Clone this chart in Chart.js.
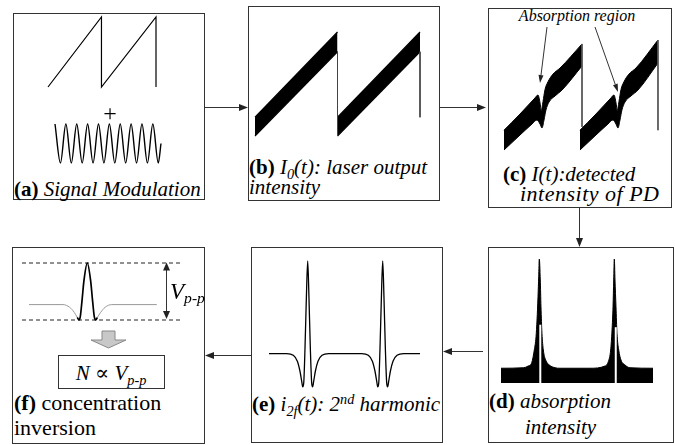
<!DOCTYPE html>
<html>
<head>
<meta charset="utf-8">
<script src="https://cdn.jsdelivr.net/npm/chart.js@4"></script>
<style>
html, body { margin: 0; padding: 0; background: #fff; }
#page { position: relative; width: 675px; height: 445px; overflow: hidden;
        font-family: "Liberation Serif", "DejaVu Serif", serif; color: #000; }
.box { position: absolute; border: 1px solid #333; box-sizing: border-box; }
.txt { position: absolute; white-space: nowrap; }
.txt sub, .txt sup { font-size: 0.68em; line-height: 0; position: relative; vertical-align: baseline; }
.txt sub { top: 0.3em; }
.txt sup { top: -0.5em; }
canvas { position: absolute; }
#ov { position: absolute; left: 0; top: 0; }
</style>
</head>
<body>
<div id="page">
  <div class="box" style="left:13px;top:13px;width:192px;height:187px"></div>
  <div class="box" style="left:248px;top:6px;width:192px;height:195px"></div>
  <div class="box" style="left:488px;top:8px;width:184px;height:200px"></div>
  <div class="box" style="left:488px;top:247px;width:186px;height:196px"></div>
  <div class="box" style="left:251px;top:247px;width:192px;height:196px"></div>
  <div class="box" style="left:12px;top:247px;width:193px;height:197px"></div>
  <div class="box" style="left:58px;top:355px;width:107px;height:34px"></div>
</div>
<script>
const sawT = [0, 1, 1, 2.02, 2.02];
const sawV = [0, 1, 0, 1, 0];
const ditherT = [0, 0.5, 1, 1.5, 2, 2.5, 3, 3.5, 4, 4.5, 5, 5.5, 6, 6.5, 7, 7.5, 8, 8.5, 9, 9.5, 9.75];
const ditherV = [1, -1, 1, -1, 1, -1, 1, -1, 1, -1, 1, -1, 1, -1, 1, -1, 1, -1, 1, -1, 0];

// (b) laser output intensity band (upper / lower envelope)
const rampT1 = [0, 1];
const rampT2 = [1, 2];
const laserUpper = [0.18, 1.0];
const laserLower = [0, 0.81];
const resetT1 = [1, 1], resetV1 = [0.81, 0];
const resetT2 = [2, 2], resetV2 = [0.81, 0.18];

// (c) detected intensity with absorption dips
const detUpT1 = [0, 0.205, 0.397, 0.436, 0.462, 0.478, 0.5, 0.526, 0.564, 0.628, 0.718, 1.0];
const detUpV1 = [0.18, 0.327, 0.473, 0.5, 0.43, 0.36, 0.44, 0.55, 0.62, 0.69, 0.745, 0.964];
const detLoT1 = [0, 0.205, 0.359, 0.423, 0.462, 0.487, 0.513, 0.538, 0.577, 0.654, 0.744, 1.0];
const detLoV1 = [0, 0.136, 0.236, 0.273, 0.236, 0.2, 0.273, 0.364, 0.436, 0.491, 0.545, 0.764];
const detUpT2 = [0.974, 1.179, 1.371, 1.41, 1.436, 1.452, 1.474, 1.5, 1.538, 1.602, 1.692, 1.974];
const detUpV2 = [0.18, 0.327, 0.473, 0.5, 0.43, 0.36, 0.44, 0.55, 0.62, 0.69, 0.745, 1.0];
const detLoT2 = [0.974, 1.179, 1.333, 1.397, 1.436, 1.461, 1.487, 1.512, 1.551, 1.628, 1.718, 1.974];
const detLoV2 = [0, 0.136, 0.236, 0.273, 0.236, 0.2, 0.273, 0.364, 0.436, 0.491, 0.545, 0.79];
const detResetT1 = [1, 1], detResetV1 = [0.964, 0.21];
const detResetT2 = [1.974, 1.974], detResetV2 = [1.0, 0.18];

// (d) absorption intensity
const absT = [0, 0.293, 0.359, 0.404, 0.438, 0.461, 0.474, 0.487, 0.496, 0.504, 0.517, 0.526, 0.539, 0.557, 0.588, 0.636, 0.711, 0.776,
              1.171, 1.368, 1.412, 1.443, 1.461, 1.474, 1.483, 1.491, 1.5, 1.513, 1.526, 1.549, 1.579, 1.632, 1.697, 2.0];
const absV = [0.119, 0.123, 0.137, 0.163, 0.266, 0.373, 0.508, 0.696, 0.857, 1.0, 0.831, 0.616, 0.401, 0.266, 0.185, 0.145, 0.123, 0.119,
              0.119, 0.137, 0.172, 0.266, 0.427, 0.615, 0.831, 1.0, 0.831, 0.615, 0.401, 0.266, 0.185, 0.145, 0.123, 0.119];
const gapT1 = [0.517, 0.517], gapV1 = [0, 0.47];
const gapT2 = [1.51, 1.51], gapV2 = [0, 0.45];

// (e) second harmonic signal
const harmT = [0, 0.236, 0.324, 0.378, 0.413, 0.436, 0.449, 0.463, 0.48, 0.498, 0.516, 0.533, 0.551, 0.569, 0.582, 0.596, 0.618, 0.653, 0.707, 0.796,
               1.236, 1.324, 1.378, 1.413, 1.436, 1.449, 1.463, 1.48, 1.498, 1.516, 1.533, 1.551, 1.569, 1.582, 1.596, 1.618, 1.653, 1.707, 1.796, 2.013];
const harmV = [0, 0, -0.018, -0.082, -0.19, -0.297, -0.358, -0.315, 0.061, 0.599, 1, 0.599, 0.061, -0.315, -0.358, -0.297, -0.19, -0.082, -0.018, 0,
               0, -0.018, -0.082, -0.19, -0.297, -0.358, -0.315, 0.061, 0.599, 1, 0.599, 0.061, -0.315, -0.358, -0.297, -0.19, -0.082, -0.018, 0, 0];

// (f) single 2f line with peak-to-peak levels
const fT = [-0.774, -0.323, -0.234, -0.173, -0.133, -0.11, -0.093, -0.07, -0.044, 0, 0.044, 0.07, 0.093, 0.112, 0.135, 0.178, 0.236, 0.325, 0.923];
const fV = [0, 0, -0.065, -0.186, -0.307, -0.37, -0.29, 0.097, 0.58, 1, 0.58, 0.097, -0.29, -0.37, -0.307, -0.186, -0.065, 0, 0];
const levelT = [-0.867, 1.271];
const peakLevel = [1, 1];
const troughLevel = [-0.37, -0.37];

const page = document.getElementById('page');

function series(xs, ys, opts) {
    return Object.assign({
        data: xs.map((x, i) => ({ x: x, y: ys[i] })),
        pointRadius: 0,
        borderColor: '#000',
        borderWidth: 1.2,
        fill: false,
        clip: false
    }, opts);
}

// rect = [left, top, right, bottom] in page pixels where the axis limits land
function drawPanel(rect, xMin, xMax, yMin, yMax, datasets) {
    const pad = 3;
    const w = rect[2] - rect[0] + 2 * pad;
    const h = rect[3] - rect[1] + 2 * pad;
    const cv = document.createElement('canvas');
    cv.width = w; cv.height = h;
    cv.style.left = (rect[0] - pad) + 'px';
    cv.style.top = (rect[1] - pad) + 'px';
    cv.style.width = w + 'px';
    cv.style.height = h + 'px';
    page.appendChild(cv);
    return new Chart(cv, {
        type: 'line',
        data: { datasets: datasets },
        options: {
            responsive: false,
            animation: false,
            events: [],
            layout: { padding: pad },
            plugins: { legend: { display: false }, tooltip: { enabled: false } },
            scales: {
                x: { type: 'linear', display: false, min: xMin, max: xMax },
                y: { type: 'linear', display: false, min: yMin, max: yMax }
            }
        }
    });
}

// (a)
drawPanel([48, 17, 156, 87], 0, 2.02, 0, 1, [series(sawT, sawV, { borderWidth: 1.2 })]);
drawPanel([55, 124, 161, 163], 0, 9.75, -1, 1, [series(ditherT, ditherV, { borderWidth: 1.4, cubicInterpolationMode: 'monotone' })]);

// (b)
drawPanel([255, 32, 420, 136], 0, 2, 0, 1, [
    series(rampT1, laserUpper, { fill: '+1', backgroundColor: '#000', order: 1 }),
    series(rampT1, laserLower, { order: 1 }),
    series(rampT2, laserUpper, { fill: '+1', backgroundColor: '#000', order: 1 }),
    series(rampT2, laserLower, { order: 1 }),
    series(resetT1, resetV1, { borderColor: '#444', borderWidth: 1, order: 0 }),
    series(resetT2, resetV2, { borderColor: '#444', borderWidth: 1, order: 0 })
]);

// (c)
drawPanel([504, 40, 660, 150], 0, 2, 0, 1, [
    series(detUpT1, detUpV1, { fill: '+1', backgroundColor: '#000', borderWidth: 1, cubicInterpolationMode: 'monotone', order: 1 }),
    series(detLoT1, detLoV1, { borderWidth: 1, cubicInterpolationMode: 'monotone', order: 1 }),
    series(detUpT2, detUpV2, { fill: '+1', backgroundColor: '#000', borderWidth: 1, cubicInterpolationMode: 'monotone', order: 1 }),
    series(detLoT2, detLoV2, { borderWidth: 1, cubicInterpolationMode: 'monotone', order: 1 }),
    series(detResetT1, detResetV1, { borderColor: '#555', borderWidth: 1, order: 0 }),
    series(detResetT2, detResetV2, { borderColor: '#555', borderWidth: 1, order: 0 })
]);

// (d)
drawPanel([501, 259, 653, 383], 0, 2, 0, 1, [
    series(absT, absV, { fill: 'origin', backgroundColor: '#000', borderWidth: 1, cubicInterpolationMode: 'monotone', order: 1 }),
    series(gapT1, gapV1, { borderColor: '#fff', borderWidth: 2, order: 0 }),
    series(gapT2, gapV2, { borderColor: '#fff', borderWidth: 2, order: 0 })
]);

// (e)
drawPanel([269, 261, 420, 387], 0, 2.013, -0.36, 1, [
    series(harmT, harmV, { borderWidth: 1.3, cubicInterpolationMode: 'monotone' })
]);

// (f)
const inCore = c => Math.abs(c.p0.parsed.x) < 0.14 && Math.abs(c.p1.parsed.x) < 0.14;
drawPanel([22, 262.5, 183, 319.5], -0.867, 1.271, -0.37, 1, [
    series(fT, fV, {
        borderWidth: 1, borderColor: '#999', cubicInterpolationMode: 'monotone', order: 0,
        segment: {
            borderColor: c => inCore(c) ? '#000' : '#999',
            borderWidth: c => inCore(c) ? 1.7 : 1
        }
    }),
    series(levelT, peakLevel, { borderColor: '#222', borderWidth: 1, borderDash: [4, 3], order: 1 }),
    series(levelT, troughLevel, { borderColor: '#222', borderWidth: 1, borderDash: [4, 3], order: 1 })
]);

// text
function label(html, x, base, size, center, spacing) {
    const d = document.createElement('div');
    d.className = 'txt';
    d.innerHTML = html;
    d.style.fontSize = size + 'px';
    d.style.lineHeight = size + 'px';
    d.style.top = (base - 0.8375 * size) + 'px';
    d.style.left = x + 'px';
    if (spacing) d.style.letterSpacing = spacing + 'px';
    if (center) d.style.transform = 'translateX(-50%)';
    page.appendChild(d);
}

label('+', 110, 121, 24, true);
label('<b>(a)</b> <i>Signal Modulation</i>', 14, 197, 21);
label('<b>(b)</b> <i>I<sub>0</sub>(t): laser output</i>', 249, 175, 21);
label('<i>intensity</i>', 249, 195, 21);
label('<i>Absorption region</i>', 577, 21, 16, true);
label('<b>(c)</b> <i>I(t):detected</i>', 503, 182, 21);
label('<i>intensity of PD</i>', 520, 201, 22, false, 0.5);
label('<b>(d)</b> <i>absorption</i>', 489, 409, 21);
label('<i>intensity</i>', 525, 435, 21);
label('<b>(e)</b> <i>i<sub>2f</sub>(t): 2<sup>nd</sup> harmonic</i>', 252, 412, 21);
label('<b>(f)</b> concentration', 14, 410, 22);
label('inversion', 14, 435, 22);
label('<i>N</i> &#8733; <i>V<sub>p-p</sub></i>', 111, 381, 21, true);
label('<i>V<sub>p-p</sub></i>', 170, 299, 23);

// arrows
const svg = `
<svg id="ov" width="675" height="445" xmlns="http://www.w3.org/2000/svg">
  <g stroke="#333" stroke-width="1" fill="none">
    <line x1="205" y1="107.5" x2="240" y2="107.5"/>
    <line x1="440" y1="107.5" x2="478" y2="107.5"/>
    <line x1="579.5" y1="208" x2="579.5" y2="239"/>
    <line x1="483" y1="351.5" x2="451" y2="351.5"/>
    <line x1="251" y1="355.5" x2="213" y2="355.5"/>
    <line x1="547" y1="27" x2="541" y2="75"/>
    <line x1="595" y1="27" x2="615.3" y2="84.5"/>
    <line x1="166.5" y1="269" x2="166.5" y2="312"/>
  </g>
  <g fill="#222" stroke="none">
    <polygon points="248,107.5 239,104 239,111"/>
    <polygon points="486,107.5 477,104 477,111"/>
    <polygon points="579.5,247 576,238 583,238"/>
    <polygon points="443,351.5 452,348 452,355"/>
    <polygon points="205,355.5 214,352 214,359"/>
    <polygon points="540,83 543.5,75.4 538.5,74.8"/>
    <polygon points="618,92 617.7,83.6 613,85.3"/>
    <polygon points="166.5,262.5 163,270.5 170,270.5"/>
    <polygon points="166.5,319 163,311 170,311"/>
  </g>
  <polygon points="102,331 115,331 115,340 126,340 108.5,348 91,340 102,340" fill="#c8c8c8" stroke="#888" stroke-width="1"/>
</svg>`;
page.insertAdjacentHTML('beforeend', svg);
</script>
</body>
</html>
